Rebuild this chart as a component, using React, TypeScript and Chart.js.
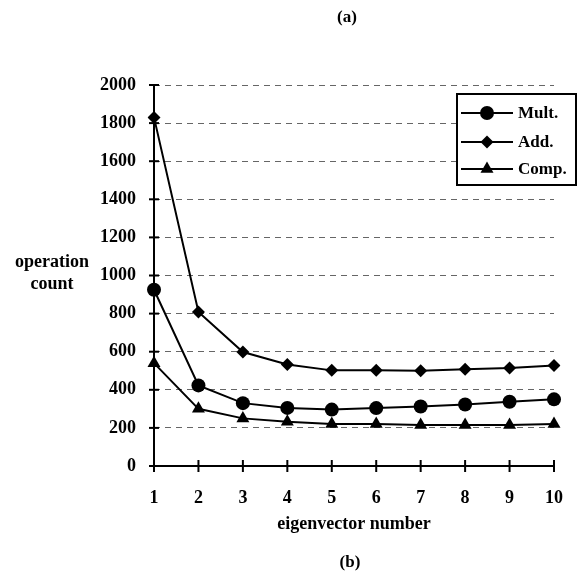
import { useEffect, useRef } from 'react';
import { Chart, registerables } from 'chart.js';

Chart.register(...registerables);

const eigenvectorNumbers = ['1', '2', '3', '4', '5', '6', '7', '8', '9', '10'];
const multCounts = [925, 423, 330, 305, 296, 304, 312, 323, 337, 350];
const addCounts = [1830, 808, 598, 533, 502, 502, 500, 508, 514, 528];
const compCounts = [540, 300, 250, 232, 220, 220, 215, 215, 215, 220];
const seriesNames = ['Mult.', 'Add.', 'Comp.'];
const yMin = 0;
const yMax = 2000;
const yStep = 200;
const topCaption = '(a)';
const bottomCaption = '(b)';
const xAxisTitle = 'eigenvector number';
const yAxisTitleLines = ['operation', 'count'];

const FONT = '"Liberation Serif", "Times New Roman", serif';

function drawMarker(ctx: CanvasRenderingContext2D, style: string, x: number, y: number, r: number) {
  ctx.fillStyle = '#000';
  ctx.beginPath();
  if (style === 'circle') {
    ctx.arc(x, y, r, 0, Math.PI * 2);
  } else if (style === 'rectRot') {
    ctx.moveTo(x, y - r);
    ctx.lineTo(x + r, y);
    ctx.lineTo(x, y + r);
    ctx.lineTo(x - r, y);
    ctx.closePath();
  } else {
    let rad = 0;
    ctx.moveTo(x + Math.sin(rad) * r, y - Math.cos(rad) * r);
    rad += (2 * Math.PI) / 3;
    ctx.lineTo(x + Math.sin(rad) * r, y - Math.cos(rad) * r);
    rad += (2 * Math.PI) / 3;
    ctx.lineTo(x + Math.sin(rad) * r, y - Math.cos(rad) * r);
    ctx.closePath();
  }
  ctx.fill();
}

const decorPlugin = {
  id: 'decor',
  beforeDatasetsDraw(chart: any) {
    const ctx = chart.ctx;
    const xs = chart.scales.x;
    const ys = chart.scales.y;
    const y0 = ys.getPixelForValue(yMin);
    const yTop = ys.getPixelForValue(yMax);
    ctx.save();
    ctx.strokeStyle = '#000';
    ctx.lineWidth = 2;
    ctx.beginPath();
    ctx.moveTo(xs.left, yTop);
    ctx.lineTo(xs.left, y0);
    ctx.lineTo(xs.right, y0);
    ctx.stroke();
    for (let v = yMin; v <= yMax; v += yStep) {
      const py = ys.getPixelForValue(v);
      ctx.beginPath();
      ctx.moveTo(xs.left - 5, py);
      ctx.lineTo(xs.left + 5, py);
      ctx.stroke();
    }
    for (let i = 0; i < eigenvectorNumbers.length; i++) {
      const px = xs.getPixelForValue(i);
      ctx.beginPath();
      ctx.moveTo(px, y0 - 6);
      ctx.lineTo(px, y0 + 6);
      ctx.stroke();
    }
    ctx.restore();
  },
  afterDraw(chart: any) {
    const ctx = chart.ctx;
    const xs = chart.scales.x;
    ctx.save();
    ctx.fillStyle = '#000';
    ctx.textAlign = 'center';
    ctx.textBaseline = 'middle';
    ctx.font = `bold 17px ${FONT}`;
    ctx.fillText(topCaption, 347, 18);
    ctx.fillText(bottomCaption, 350, 563);
    ctx.font = `bold 18px ${FONT}`;
    ctx.fillText(xAxisTitle, (xs.left + xs.right) / 2, 524);
    ctx.fillText(yAxisTitleLines[0], 52, 262);
    ctx.fillText(yAxisTitleLines[1], 52, 284);

    const bx = 457, by = 94, bw = 119, bh = 91;
    ctx.fillStyle = '#fff';
    ctx.fillRect(bx, by, bw, bh);
    ctx.strokeStyle = '#000';
    ctx.lineWidth = 2;
    ctx.strokeRect(bx, by, bw, bh);
    const rows = [113, 142, 169];
    chart.data.datasets.forEach((ds: any, i: number) => {
      const ry = rows[i];
      ctx.strokeStyle = '#000';
      ctx.lineWidth = 2;
      ctx.beginPath();
      ctx.moveTo(461, ry);
      ctx.lineTo(513, ry);
      ctx.stroke();
      drawMarker(ctx, ds.pointStyle, 487, ry, ds.pointRadius);
      ctx.fillStyle = '#000';
      ctx.textAlign = 'left';
      ctx.textBaseline = 'middle';
      ctx.font = `bold 17px ${FONT}`;
      ctx.fillText(ds.label, 518, ry + 1);
    });
    ctx.restore();
  },
};

export default function App() {
  const canvasRef = useRef<HTMLCanvasElement | null>(null);

  useEffect(() => {
    if (!canvasRef.current) return;
    const base = {
      borderColor: '#000',
      backgroundColor: '#000',
      pointBackgroundColor: '#000',
      pointBorderColor: '#000',
      borderWidth: 2,
      pointBorderWidth: 0,
      tension: 0,
      fill: false,
    };
    const chart = new Chart(canvasRef.current, {
      type: 'line',
      data: {
        labels: eigenvectorNumbers,
        datasets: [
          { ...base, label: seriesNames[0], data: multCounts, pointStyle: 'circle', pointRadius: 7 },
          { ...base, label: seriesNames[1], data: addCounts, pointStyle: 'rectRot', pointRadius: 6.5 },
          { ...base, label: seriesNames[2], data: compCounts, pointStyle: 'triangle', pointRadius: 7.5 },
        ],
      },
      options: {
        animation: false,
        responsive: true,
        maintainAspectRatio: false,
        layout: { padding: { left: 0, top: 85, right: 25, bottom: 75 } },
        plugins: {
          legend: { display: false },
          tooltip: { enabled: false },
        },
        scales: {
          x: {
            offset: false,
            grid: { display: false, drawTicks: false },
            border: { display: false },
            ticks: {
              color: '#000',
              padding: 22,
              maxRotation: 0,
              font: { family: FONT, size: 18, weight: 'bold' },
            },
            afterFit(s: any) {
              s.height = 40;
              s.paddingLeft = 0;
              s.paddingRight = 0;
            },
          },
          y: {
            min: yMin,
            max: yMax,
            grid: {
              color: (c: any) => (c.tick && c.tick.value === 0 ? 'rgba(0,0,0,0)' : '#666'),
              lineWidth: 1,
              drawTicks: false,
            },
            border: { display: false, dash: [6, 5] },
            ticks: {
              stepSize: yStep,
              color: '#000',
              padding: 18,
              font: { family: FONT, size: 18, weight: 'bold' },
              callback: (v: any) => String(v),
            },
            afterFit(s: any) {
              s.width = 154;
              s.paddingTop = 0;
              s.paddingBottom = 0;
            },
          },
        },
      } as any,
      plugins: [decorPlugin],
    });
    return () => chart.destroy();
  }, []);

  return (
    <div style={{ position: 'fixed', left: 0, top: 0, width: 579, height: 581, background: '#fff' }}>
      <canvas ref={canvasRef} />
    </div>
  );
}
